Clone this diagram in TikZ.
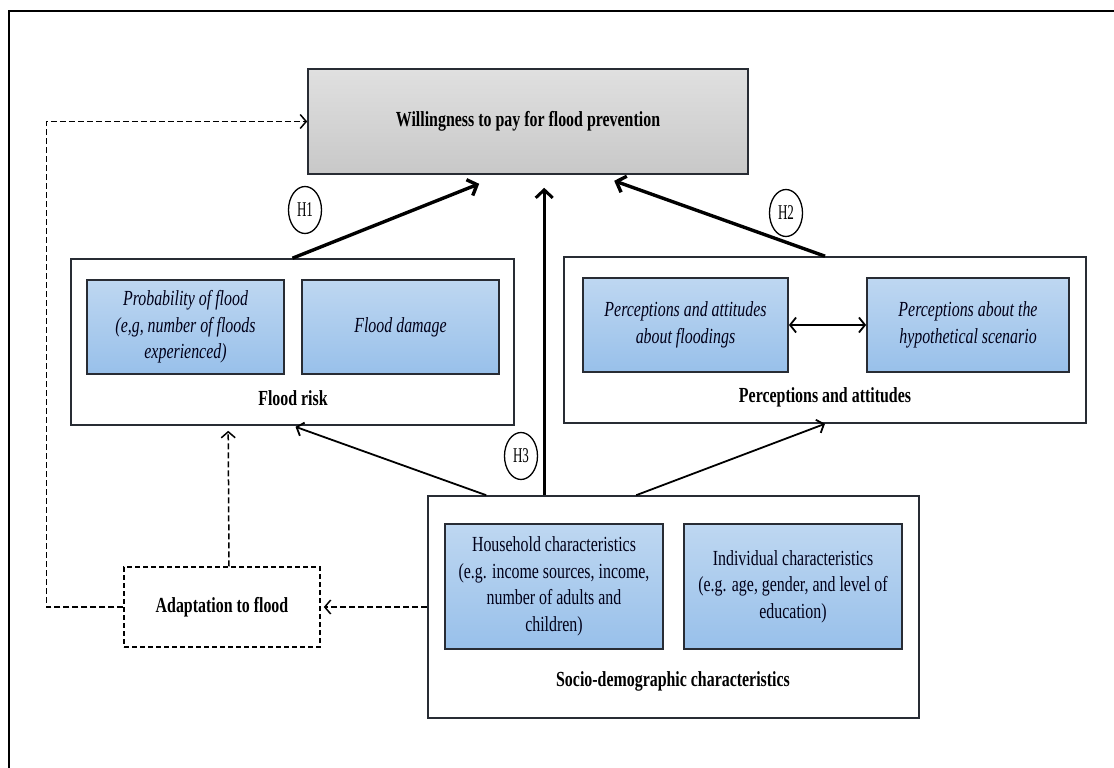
\documentclass[tikz,border=0pt]{standalone}
\usepackage{fontspec}
\setmainfont{Liberation Serif}[FakeStretch=0.74]
\newfontfamily\hlabfont{Liberation Serif}[FakeStretch=0.62]
\usetikzlibrary{arrows.meta,shapes.geometric,calc}
\definecolor{blueTop}{RGB}{190,215,241}
\definecolor{blueBot}{RGB}{152,192,234}
\definecolor{grayTop}{RGB}{224,224,224}
\definecolor{grayBot}{RGB}{200,200,200}
\definecolor{edgeDark}{RGB}{40,44,52}
\newcommand\myfs{\fontsize{21.5}{26.5}\selectfont}
\tikzset{
  outerbox/.style={draw=edgeDark, line width=1.6pt, fill=white, inner sep=0pt},
  bluebox/.style={draw=edgeDark, line width=1.8pt, top color=blueTop, bottom color=blueBot,
    align=center, inner sep=2pt, font=\myfs\itshape, text=black!90!blue},
  blueup/.style={bluebox, font=\myfs},
  wtpbox/.style={draw=edgeDark, line width=1.6pt, top color=grayTop, bottom color=grayBot,
    align=center, font=\myfs\bfseries, inner sep=0pt},
  boxtitle/.style={font=\myfs\bfseries, inner sep=0pt},
  hyp/.style={ellipse, draw=black, line width=1.3pt, minimum width=33pt, minimum height=47pt,
    inner sep=0pt, font=\fontsize{21}{21}\selectfont\hlabfont, fill=white},
  thickarrow/.style={line width=3.4pt, -{Straight Barb[length=8pt,width=17pt]}},
  thinarrow/.style={line width=1.8pt, -{Straight Barb[length=6pt,width=14pt]}},
  dasharrow/.style={line width=1.5pt, dash pattern=on 6pt off 3pt, -{Straight Barb[length=6pt,width=14pt]}},
  dashbox/.style={draw=black, line width=1.5pt, dash pattern=on 5pt off 3pt, fill=white,
    font=\myfs\bfseries, inner sep=0pt},
}
\begin{document}
\begin{tikzpicture}[x=1pt,y=-1pt]
\useasboundingbox (0,0) rectangle (1114,768);
\fill[white] (0,0) rectangle (1114,768);
% outer frame (runs off the page to the right and bottom)
\draw[line width=2.4pt, black] (1130,11) -- (9,11) -- (9,790);

% main boxes
\node[wtpbox, minimum width=440pt, minimum height=105pt] (wtp) at (528,121.5)
  {Willingness to pay for flood prevention};

\node[outerbox, minimum width=443pt, minimum height=166pt] (fr) at (292.5,342) {};
\node[bluebox, minimum width=197pt, minimum height=94pt] (prob) at (185.5,327)
  {Probability of flood\\(e,g, number of floods\\experienced)};
\node[bluebox, minimum width=197pt, minimum height=94pt] (dam) at (400.5,327) {Flood damage};
\node[boxtitle] (frt) at (293,398) {Flood risk};

\node[outerbox, minimum width=522pt, minimum height=166pt] (pa) at (825,340) {};
\node[bluebox, minimum width=205pt, minimum height=94pt] (pa1) at (685.5,325)
  {Perceptions and attitudes\\about floodings};
\node[bluebox, minimum width=202pt, minimum height=94pt] (pa2) at (968,325)
  {Perceptions about the\\hypothetical scenario};
\node[boxtitle] (pat) at (825,397) {Perceptions and attitudes};

\node[outerbox, minimum width=491pt, minimum height=222pt] (socio) at (673.5,607) {};
\node[blueup, minimum width=218pt, minimum height=125pt] (hh) at (554,586.5)
  {Household characteristics\\(e.g. income sources, income,\\number of adults and\\children)};
\node[blueup, minimum width=218pt, minimum height=125pt] (ind) at (793,586.5)
  {Individual characteristics\\(e.g. age, gender, and level of\\education)};
\node[boxtitle] (sociot) at (673,681) {Socio-demographic characteristics};

\node[dashbox, minimum width=196pt, minimum height=80pt] (adapt) at (222,607) {Adaptation to flood};

% hypothesis labels
\node[hyp] (h1) at (305,210) {H1};
\node[hyp] (h2) at (786,213) {H2};
\node[hyp] (h3) at (521,456) {H3};

% thick arrows
\draw[thickarrow] (fr.north) -- ([xshift=172pt,yshift=-9pt]wtp.south west);
\draw[thickarrow] (pa.north) -- ([xshift=307pt,yshift=-6pt]wtp.south west);
\draw[thickarrow, line width=3pt] ([xshift=117pt]socio.north west) -- ([xshift=237pt,yshift=-13pt]wtp.south west);

% thin arrows
\draw[thinarrow] ([xshift=59pt]socio.north west) -- ([xshift=3pt,yshift=-1pt]fr.south);
\draw[thinarrow] ([xshift=209pt]socio.north west) -- (pa.south);
\draw[line width=1.8pt, {Straight Barb[length=6pt,width=15pt]}-{Straight Barb[length=6pt,width=15pt]}]
  (pa1.east) -- (pa2.west);

% dashed arrows
\draw[dasharrow] (adapt.west) -- ++(-77,0) |- (wtp.west);
\draw[dasharrow] ([xshift=7pt]adapt.north) -- ([xshift=158pt,yshift=-5pt]fr.south west);
\draw[dasharrow, shorten >=3pt] (socio.west) -- (adapt.east);
\end{tikzpicture}
\end{document}
